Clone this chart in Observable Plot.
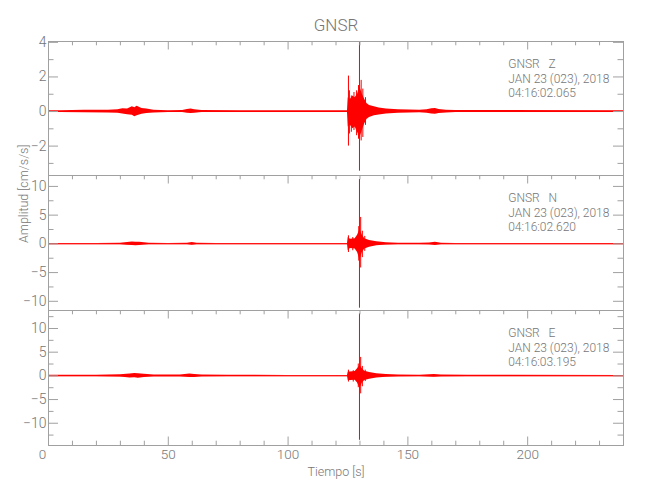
<!DOCTYPE html>
<html><head><meta charset="utf-8">
<script src="https://cdn.jsdelivr.net/npm/d3@7"></script>
<script src="https://cdn.jsdelivr.net/npm/@observablehq/plot@0.6"></script>
<style>
body{margin:0;background:#fff;}
#wrap{position:relative;width:650px;height:500px;}
#wrap svg{position:absolute;left:0;overflow:visible;background:transparent;}
#wrap svg text{font-weight:300;}
</style></head><body><div id="wrap"></div>
<script>
// ---- data ----
const stationName = "GNSR";
const components = ["Z", "N", "E"];
const dateLine = "JAN 23 (023), 2018";
const startTimes = ["04:16:02.065", "04:16:02.620", "04:16:03.195"];
const xLabel = "Tiempo [s]";
const yLabel = "Amplitud [cm/s/s]";
const xDomain = [0, 240];
const xFirstTick = [0];
const xMajorTicks = [0, 50, 100, 150, 200];
const xLabelTicks = [50, 100, 150, 200];
const xMinorTicks = [10, 20, 30, 40, 60, 70, 80, 90, 110, 120, 130, 140, 160, 170, 180, 190, 210, 220, 230];

const zDomain = [-3.7, 4.05];
const zMajor = [-2, 0, 2, 4];
const zMinor = [-3, -1, 1, 3];
const nDomain = [-11.6, 11.9];
const nMajor = [-10, -5, 0, 5, 10];
const nMinor = [-7.5, -2.5, 2.5, 7.5];
const eDomain = [-14.7, 13.8];
const eMajor = [-10, -5, 0, 5, 10];
const eMinor = [-12.5, -7.5, -2.5, 2.5, 7.5, 12.5];

// envelopes (time s, upper, lower) — cm/s/s
const zT  = [0, 5, 15, 25, 29, 31, 33, 35, 36, 37, 39, 41, 44, 50, 56, 58, 59.5, 61, 64, 80, 124.8, 125.1, 126, 127, 128, 129, 130, 131, 132, 133, 134, 136, 138, 141, 146, 155, 158, 160, 161.5, 163, 166, 170, 240];
const zHi = [0.05, 0.05, 0.07, 0.08, 0.1, 0.16, 0.14, 0.28, 0.22, 0.3, 0.18, 0.14, 0.08, 0.05, 0.06, 0.12, 0.14, 0.1, 0.06, 0.05, 0.05, 0.8, 0.7, 0.9, 0.8, 1.0, 1.4, 1.0, 0.7, 0.45, 0.35, 0.28, 0.2, 0.15, 0.1, 0.07, 0.1, 0.16, 0.18, 0.12, 0.08, 0.06, 0.05];
const zLo = [-0.05, -0.05, -0.07, -0.08, -0.1, -0.14, -0.18, -0.22, -0.3, -0.24, -0.16, -0.12, -0.08, -0.05, -0.06, -0.1, -0.12, -0.1, -0.05, -0.05, -0.05, -0.9, -0.8, -1.0, -0.9, -1.2, -1.5, -1.1, -0.7, -0.45, -0.35, -0.25, -0.2, -0.15, -0.1, -0.07, -0.1, -0.14, -0.16, -0.12, -0.08, -0.06, -0.05];
const zSpikeT  = [125.2, 125.6, 126.4, 127.5, 128.6, 129.4, 129.8, 130.5, 131.2, 132.3];
const zSpikeHi = [2.05, 1.2, 0.9, 1.1, 1.2, 1.5, 4.1, 1.8, 1.3, 0.8];
const zSpikeLo = [-2.0, -1.3, -1.2, -1.1, -1.4, -1.6, -3.45, -1.7, -1.5, -0.8];

const nT  = [0, 20, 30, 33, 35, 36.5, 38, 42, 50, 58, 60, 62, 70, 124.8, 125.1, 126, 128, 129, 130, 131, 132, 134, 137, 141, 146, 155, 159, 161.5, 164, 170, 240];
const nHi = [0.06, 0.08, 0.12, 0.25, 0.32, 0.28, 0.3, 0.1, 0.08, 0.1, 0.22, 0.1, 0.06, 0.06, 1.1, 0.8, 0.9, 1.5, 2.5, 1.5, 0.9, 0.6, 0.35, 0.2, 0.12, 0.1, 0.15, 0.3, 0.12, 0.08, 0.06];
const nLo = [-0.06, -0.08, -0.12, -0.25, -0.3, -0.34, -0.28, -0.1, -0.08, -0.1, -0.22, -0.1, -0.06, -0.06, -1.2, -0.8, -0.9, -1.5, -2.8, -1.5, -0.9, -0.6, -0.35, -0.2, -0.12, -0.1, -0.15, -0.3, -0.12, -0.08, -0.06];
const nSpikeT  = [125.2, 127.0, 129.5, 129.8, 130.3, 131.0, 132.0];
const nSpikeHi = [1.4, 1.1, 3.0, 11.2, 4.6, 2.2, 1.3];
const nSpikeLo = [-1.5, -1.2, -3.0, -11.2, -4.2, -2.4, -1.3];

const eT  = [0, 20, 30, 34, 36, 37.5, 40, 44, 55, 59, 61, 64, 75, 100, 124.8, 125.1, 126, 128, 129, 130, 131, 132, 134, 137, 141, 146, 155, 161, 164, 175, 240];
const eHi = [0.12, 0.15, 0.25, 0.4, 0.5, 0.45, 0.35, 0.2, 0.2, 0.38, 0.3, 0.2, 0.15, 0.1, 0.1, 0.8, 0.8, 0.9, 1.5, 2.2, 1.5, 1.0, 0.7, 0.45, 0.3, 0.2, 0.15, 0.3, 0.18, 0.12, 0.1];
const eLo = [-0.12, -0.15, -0.25, -0.45, -0.42, -0.5, -0.32, -0.2, -0.2, -0.36, -0.32, -0.2, -0.15, -0.1, -0.1, -1.0, -1.0, -0.9, -1.5, -2.6, -1.5, -1.0, -0.7, -0.45, -0.3, -0.2, -0.15, -0.3, -0.18, -0.12, -0.1];
const eSpikeT  = [125.2, 127.2, 129.3, 129.8, 130.3, 131.0, 132.2];
const eSpikeHi = [1.2, 1.1, 2.5, 13.1, 3.9, 2.0, 1.2];
const eSpikeLo = [-1.3, -1.3, -2.5, -13.6, -3.8, -2.3, -1.2];

// ---- styling ----
const FONT = "Roboto, 'Liberation Sans Narrow', sans-serif";
const TXT = "#767676";
const AX = "#a0a0a0";
const RED = "#ff0000";
const ML = 48, MR = 27, W = 650, FW = W - ML - MR;

function rows(t, hi, lo) { return t.map((d, i) => ({t: d, hi: hi[i], lo: lo[i]})); }

function panel({env, spikes, domain, major, minor, comp, start, top, fh, first, last}) {
  const mt = first ? top : 0;
  const mb = last ? 40 : 0;
  const marks = [
    Plot.ruleY([0], {stroke: RED, strokeWidth: 1}),
    Plot.areaY(env, {x: "t", y1: "lo", y2: "hi", fill: RED, curve: "linear", clip: true}),
    Plot.ruleX(spikes, {x: "t", y1: "lo", y2: "hi", stroke: RED, strokeWidth: 1, clip: true}),
    Plot.frame({stroke: AX}),
    Plot.tickX(xMajorTicks, {x: d => d, stroke: AX, insetBottom: fh - 8.5}),
    Plot.tickX(xMinorTicks, {x: d => d, stroke: AX, insetBottom: fh - 4.3}),
    Plot.tickY(major, {y: d => d, stroke: AX, insetRight: FW - 10}),
    Plot.tickY(minor, {y: d => d, stroke: AX, insetRight: FW - 5.5}),
    Plot.tickY(major, {y: d => d, stroke: AX, insetLeft: FW - 10}),
    Plot.tickY(minor, {y: d => d, stroke: AX, insetLeft: FW - 5.5}),
    Plot.axisY({ticks: major, tickSize: 0, tickPadding: 2, fontSize: 14, fill: TXT, label: null}),
    Plot.text([`${stationName}   ${comp}\n${dateLine}\n${start}`], {
      frameAnchor: "top-right", textAnchor: "start", lineAnchor: "top",
      dx: -(W - MR - 507.7), dy: 16.3, fontSize: 12, lineHeight: 1.22, fill: TXT
    })
  ];
  if (first) {
    marks.push(Plot.text([stationName], {frameAnchor: "top", lineAnchor: "bottom", dy: -(top - 30), fontSize: 17, fill: TXT}));
  }
  if (comp === "N") {
    marks.push(Plot.text([yLabel], {frameAnchor: "left", rotate: -90, dx: -25, fontSize: 12.5, fill: TXT}));
  }
  if (last) {
    marks.push(
      Plot.tickX(xMajorTicks, {x: d => d, stroke: AX, insetTop: fh - 8.5}),
      Plot.tickX(xMinorTicks, {x: d => d, stroke: AX, insetTop: fh - 4.3}),
      Plot.axisX({ticks: xLabelTicks, tickSize: 0, tickPadding: 4, fontSize: 13.5, fill: TXT, label: null}),
      Plot.axisX({ticks: xFirstTick, tickSize: 0, tickPadding: 4, fontSize: 13.5, fill: TXT, label: null, dx: -6}),
      Plot.text([xLabel], {frameAnchor: "bottom", lineAnchor: "bottom", dy: 30, fontSize: 12.5, fill: TXT})
    );
  }
  const svg = Plot.plot({
    width: W, height: fh + mt + mb,
    marginLeft: ML, marginRight: MR, marginTop: mt, marginBottom: mb,
    style: {fontFamily: FONT, background: "transparent", overflow: "visible", color: TXT},
    x: {domain: xDomain, axis: null},
    y: {domain, axis: null},
    marks
  });
  svg.style.top = (first ? 0 : top) + "px";
  return svg;
}

const wrap = document.getElementById("wrap");
const defs = [
  {env: rows(zT, zHi, zLo), spikes: rows(zSpikeT, zSpikeHi, zSpikeLo), domain: zDomain, major: zMajor, minor: zMinor, top: 41, fh: 134},
  {env: rows(nT, nHi, nLo), spikes: rows(nSpikeT, nSpikeHi, nSpikeLo), domain: nDomain, major: nMajor, minor: nMinor, top: 175, fh: 135},
  {env: rows(eT, eHi, eLo), spikes: rows(eSpikeT, eSpikeHi, eSpikeLo), domain: eDomain, major: eMajor, minor: eMinor, top: 310, fh: 135}
];
defs.forEach((d, i) => {
  wrap.appendChild(panel({...d, comp: components[i], start: startTimes[i], first: i === 0, last: i === 2}));
});
</script></body></html>
